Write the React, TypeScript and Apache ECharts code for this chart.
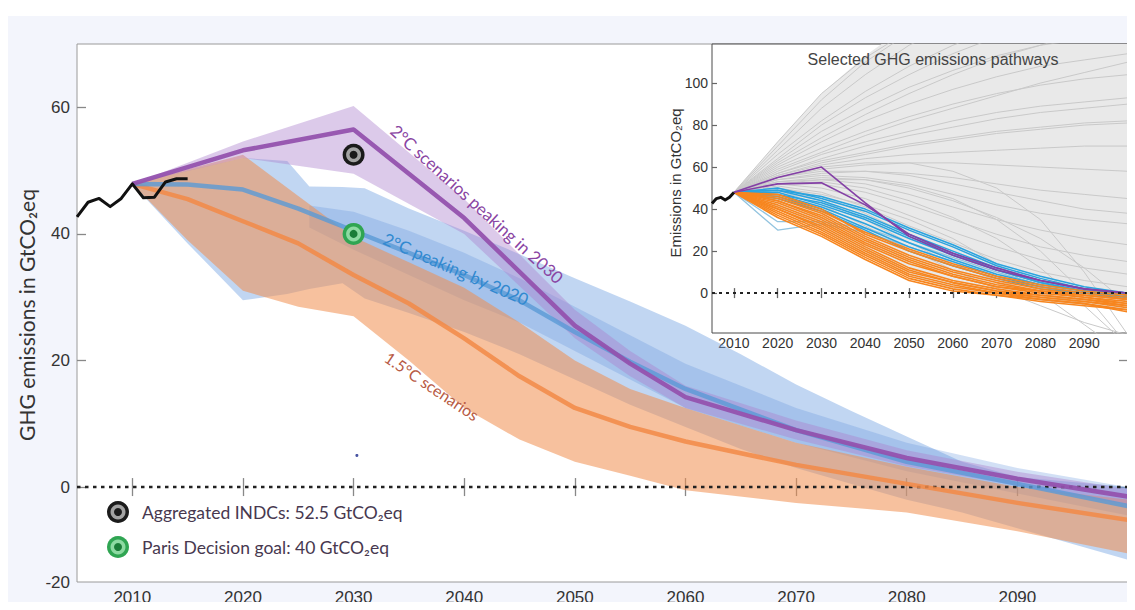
import React, { useEffect, useRef } from 'react';
import * as echarts from 'echarts';

// ---------------- Data ----------------
const histYears = [2005, 2006, 2007, 2008, 2009, 2010, 2011, 2012, 2013, 2014, 2015];
const histValues = [42.7, 45.0, 45.6, 44.3, 45.6, 47.9, 45.7, 45.8, 48.2, 48.7, 48.7];

// 2°C scenarios peaking in 2030 (purple)
const purpleYears = [2010, 2020, 2030, 2040, 2050, 2055, 2060, 2070, 2080, 2090, 2100];
const purpleMedian = [47.9, 53.2, 56.5, 42.5, 25.5, 19.5, 14.2, 9.0, 4.6, 1.3, -1.5];
const purpleLow = [47.9, 52.0, 49.5, 40.0, 23.5, 17.5, 12.5, 7.5, 3.3, 0.2, -2.8];
const purpleHigh = [47.9, 54.6, 60.2, 45.5, 28.0, 21.5, 16.0, 10.5, 5.8, 2.4, -0.3];

// 2°C peaking by 2020 (blue)
const blueYears = [2010, 2015, 2020, 2024, 2026, 2029, 2031, 2035, 2040, 2045, 2050, 2055, 2060, 2065, 2070, 2075, 2080, 2085, 2090, 2100];
const blueHigh = [47.9, 50.0, 52.0, 51.5, 47.5, 47.4, 47.2, 44.0, 40.5, 36.8, 33.0, 29.3, 25.5, 21.0, 16.2, 12.0, 8.0, 4.0, 1.6, 0.0];
const blueLow = [47.9, 38.5, 29.5, 30.5, 31.3, 32.2, 29.8, 27.5, 24.5, 21.0, 17.0, 13.0, 9.5, 6.0, 3.0, 0.5, -2.0, -4.0, -6.5, -11.5];
const blueInnerYears = [2026, 2030, 2035, 2040, 2045, 2050, 2055, 2060, 2070, 2080, 2090, 2100];
const blueInnerHigh = [44.5, 43.5, 40.5, 37.0, 33.0, 28.5, 24.0, 19.5, 12.5, 7.0, 3.0, 0.0];
const blueInnerLow = [41.0, 37.5, 33.5, 29.5, 26.0, 21.5, 17.0, 12.5, 7.0, 2.5, -1.0, -4.5];
const blueMedianYears = [2010, 2015, 2020, 2025, 2030, 2035, 2040, 2045, 2050, 2055, 2060, 2070, 2080, 2090, 2100];
const blueMedian = [47.9, 47.8, 47.0, 44.0, 40.5, 37.0, 33.5, 29.5, 24.5, 19.8, 15.5, 9.0, 4.0, 0.5, -3.0];

// 1.5°C scenarios (orange)
const orangeYears = [2010, 2015, 2020, 2025, 2030, 2035, 2040, 2045, 2050, 2055, 2060, 2070, 2080, 2090, 2100];
const orangeHigh = [47.9, 50.2, 52.5, 46.0, 39.5, 35.5, 31.5, 26.0, 20.0, 15.5, 12.5, 7.0, 3.2, 0.0, -2.0];
const orangeLow = [47.9, 39.0, 31.0, 28.5, 27.0, 20.0, 12.5, 7.5, 4.0, 1.8, -0.5, -2.5, -4.0, -7.0, -10.5];
const orangeMedian = [47.9, 45.5, 42.0, 38.5, 33.5, 29.0, 23.5, 17.5, 12.5, 9.5, 7.2, 3.5, 0.5, -2.5, -5.2];

const indcPoint = [2030, 52.5];
const parisPoint = [2030, 40];
const strayDot = [2030.3, 5];

const mainXTicks = [2010, 2020, 2030, 2040, 2050, 2060, 2070, 2080, 2090];
const mainYTickValues = [-15, 0, 20, 40, 60];
const mainYTickLabels = ['-20', '0', '20', '40', '60'];

// Inset: selected GHG emissions pathways
const insetYears = [2010, 2020, 2030, 2040, 2050, 2060, 2070, 2080, 2090, 2100];
const insetXTicks = [2010, 2020, 2030, 2040, 2050, 2060, 2070, 2080, 2090];
const insetYTicks = [0, 20, 40, 60, 80, 100];
const grayEnvHigh = [48, 72, 95, 113, 128, 140, 150, 158, 164, 170];
const grayEnvLow = [48, 40, 30, 18, 8, 2, -1, -4, -6, -8];
const grayPaths = [
  [48, 72, 95, 112, 125, 135, 145, 150, 155, 160],
  [48, 70, 92, 110, 124, 136, 146, 154, 160, 165],
  [48, 68, 88, 104, 118, 128, 136, 142, 146, 150],
  [48, 66, 82, 96, 108, 118, 126, 132, 136, 140],
  [48, 64, 80, 93, 104, 114, 122, 130, 136, 142],
  [48, 63, 77, 88, 98, 106, 113, 118, 121, 124],
  [48, 62, 74, 85, 95, 104, 112, 118, 124, 128],
  [48, 61, 72, 82, 90, 97, 103, 108, 111, 114],
  [48, 60, 69, 77, 84, 90, 95, 99, 102, 104],
  [48, 59, 67, 75, 82, 88, 94, 100, 105, 110],
  [48, 58, 66, 72, 77, 82, 86, 89, 91, 93],
  [48, 57, 64, 70, 75, 79, 83, 86, 88, 90],
  [48, 57, 63, 67, 71, 74, 77, 79, 81, 82],
  [48, 56, 62, 66, 70, 73, 76, 78, 80, 81],
  [48, 56, 61, 64, 66, 67, 68, 69, 70, 70],
  [48, 55, 59, 61, 62, 62, 61, 60, 59, 58],
  [48, 55, 60, 62, 62, 58, 50, 35, 10, -20],
  [48, 55, 58, 58, 56, 52, 48, 44, 40, 38],
  [48, 54, 57, 58, 57, 55, 52, 49, 47, 45],
  [48, 54, 56, 55, 52, 47, 42, 38, 35, 33],
  [48, 53, 55, 54, 50, 44, 36, 26, 12, -5],
  [48, 53, 54, 52, 47, 41, 35, 30, 26, 23],
  [48, 52, 54, 54, 51, 45, 35, 20, 0, -25],
  [48, 52, 53, 50, 44, 36, 26, 12, -6, -25],
  [48, 52, 52, 48, 42, 35, 28, 22, 18, 15],
  [48, 52, 50, 45, 37, 29, 22, 16, 12, 9],
  [48, 51, 48, 41, 32, 24, 16, 10, 6, 3],
  [48, 50, 47, 42, 35, 26, 14, 0, -15, -30],
  [48, 50, 46, 38, 28, 19, 11, 5, 1, -2],
  [48, 50, 44, 35, 24, 14, 6, 0, -5, -8],
  [48, 49, 42, 32, 21, 11, 2, -6, -14, -20],
];
const orangePaths = [
  [48, 47, 40, 28, 20, 13, 7, 3, 0, -2],
  [48, 46, 39, 29, 21, 14, 8, 4, 1, -1],
  [48, 45, 38, 27, 18, 11, 6, 2, -1, -3],
  [48, 44, 37, 26, 17, 10, 5, 1, -1, -3],
  [48, 44, 36, 25, 16, 9, 4, 1, -2, -4],
  [48, 43, 35, 24, 15, 8, 3, 1, -1, -3],
  [48, 42, 34, 23, 14, 8, 3, 0, -2, -5],
  [48, 41, 33, 22, 12, 6, 2, -1, -3, -5],
  [48, 40, 32, 21, 11, 5, 1, -1, -3, -6],
  [48, 40, 31, 20, 10, 5, 1, -2, -4, -6],
  [48, 39, 30, 19, 9, 4, 0, -2, -4, -7],
  [48, 38, 29, 18, 8, 3, 0, -3, -5, -8],
  [48, 37, 28, 17, 7, 2, -1, -3, -5, -9],
  [48, 36, 27, 16, 6, 1, -1, -4, -6, -8],
];
const bluePaths = [
  [48, 50, 45, 39, 30, 22, 13, 7, 2, 0],
  [48, 49, 46, 40, 31, 23, 14, 8, 3, 0],
  [48, 49, 44, 37, 28, 20, 12, 6, 2, -1],
  [48, 48, 42, 35, 26, 18, 11, 5, 1, -1],
  [48, 47, 43, 36, 27, 19, 11, 5, 1, -1],
  [48, 47, 41, 33, 24, 16, 9, 4, 1, -2],
  [48, 46, 40, 31, 22, 15, 8, 3, 0, -2],
  [48, 45, 39, 30, 20, 13, 7, 2, 0, -3],
];
const lightBluePaths = [
  [48, 30, 33, 29, 22, 15, 8, 3, 0, -2],
  [48, 34, 34, 31, 24, 17, 10, 4, 1, -1],
];
const purplePaths = [
  [48, 55, 60, 43, 27, 18, 11, 6, 2, 0],
  [48, 52, 52.5, 42, 28, 19, 12, 6, 2, 0],
];
const zeroLineYears = [2005, 2100];
const zeroLineValues = [0, 0];

// ---------------- helpers ----------------
const pairs = (xs: number[], ys: number[]) => xs.map((x, i) => [x, ys[i]]);

function band(name: string, years: number[], lo: number[], hi: number[], fill: string, xIdx: number, yIdx: number, z: number) {
  return {
    type: 'custom',
    name,
    xAxisIndex: xIdx,
    yAxisIndex: yIdx,
    clip: true,
    silent: true,
    z,
    data: years.map((y, i) => [y, lo[i], hi[i]]),
    encode: { x: 0, y: [1, 2] },
    renderItem: (params: any, api: any) => {
      if (params.dataIndex !== 0) return null;
      const pts: number[][] = [];
      for (let i = 0; i < years.length; i++) pts.push(api.coord([years[i], lo[i]]));
      for (let i = years.length - 1; i >= 0; i--) pts.push(api.coord([years[i], hi[i]]));
      return { type: 'polygon', shape: { points: pts }, style: { fill } };
    },
  };
}

function line(name: string, xs: number[], ys: number[], color: string, width: number, xIdx: number, yIdx: number, z: number, opacity = 1, type: any = 'solid') {
  return {
    type: 'line',
    name,
    xAxisIndex: xIdx,
    yAxisIndex: yIdx,
    data: pairs(xs, ys),
    showSymbol: false,
    symbol: 'none',
    silent: true,
    clip: true,
    z,
    lineStyle: { color, width, opacity, type, join: 'round', cap: 'butt' },
  };
}

function ringMarker(name: string, pt: number[], colors: string[]) {
  return {
    type: 'custom',
    name,
    xAxisIndex: 0,
    yAxisIndex: 0,
    z: 10,
    silent: true,
    data: [pt],
    renderItem: (_p: any, api: any) => {
      const c = api.coord([api.value(0), api.value(1)]);
      return {
        type: 'group',
        children: [
          { type: 'circle', shape: { cx: c[0], cy: c[1], r: 11 }, style: { fill: colors[0] } },
          { type: 'circle', shape: { cx: c[0], cy: c[1], r: 7.5 }, style: { fill: colors[1] } },
          { type: 'circle', shape: { cx: c[0], cy: c[1], r: 4 }, style: { fill: colors[2] } },
        ],
      };
    },
  };
}

function legendMarker(cx: number, cy: number, colors: string[]) {
  return {
    type: 'group',
    children: [
      { type: 'circle', shape: { cx, cy, r: 11 }, style: { fill: colors[0] } },
      { type: 'circle', shape: { cx, cy, r: 7.5 }, style: { fill: colors[1] } },
      { type: 'circle', shape: { cx, cy, r: 4 }, style: { fill: colors[2] } },
    ],
  };
}

const BLACK_MARK = ['#1b1b1b', '#a3a3a3', '#1b1b1b'];
const GREEN_MARK = ['#2fa552', '#8ddaa2', '#1a7d38'];
const TICK_FONT = 'Liberation Sans, Arial, sans-serif';
const NOTE_FONT = 'Lato, Open Sans, sans-serif';

function mirrorX(grid: number, min: number, max: number, ticks: number[], len: number, color: string, pos: string, labels: boolean, fontSize: number, margin: number) {
  return {
    type: 'value',
    gridIndex: grid,
    min,
    max,
    position: pos,
    axisLine: { show: false },
    splitLine: { show: false },
    axisTick: { show: true, inside: true, length: len, customValues: ticks, lineStyle: { color, width: 1.3 } },
    axisLabel: {
      show: labels,
      customValues: ticks,
      formatter: (v: number) => String(v),
      fontSize,
      fontFamily: TICK_FONT,
      color: '#333',
      margin,
    },
  };
}

export default function App() {
  const ref = useRef<HTMLDivElement>(null);

  useEffect(() => {
    if (!ref.current) return;
    const chart = echarts.init(ref.current, undefined, { renderer: 'svg' });

    const series: any[] = [
      // main chart bands
      band('2°C peaking by 2020 range', blueYears, blueLow, blueHigh, 'rgba(118,164,226,0.45)', 0, 0, 2),
      band('2°C peaking by 2020 core', blueInnerYears, blueInnerLow, blueInnerHigh, 'rgba(95,145,218,0.28)', 0, 0, 2),
      band('1.5°C range', orangeYears, orangeLow, orangeHigh, 'rgba(240,142,78,0.55)', 0, 0, 2),
      band('2°C peaking in 2030 range', purpleYears, purpleLow, purpleHigh, 'rgba(172,128,204,0.42)', 0, 0, 2),
      line('zero', zeroLineYears, zeroLineValues, '#222', 2.5, 0, 0, 3, 1, [3.5, 4.5]),
      line('1.5°C median', orangeYears, orangeMedian, '#f28a46', 4.5, 0, 0, 4, 0.85),
      line('2°C peaking by 2020 median', blueMedianYears, blueMedian, '#5a9ad6', 4.5, 0, 0, 4, 0.8),
      line('2°C peaking in 2030 median', purpleYears, purpleMedian, '#9352ae', 4.5, 0, 0, 5, 0.95),
      line('historical', histYears, histValues, '#111', 3, 0, 0, 6),
      ringMarker('Aggregated INDCs', indcPoint, BLACK_MARK),
      ringMarker('Paris Decision goal', parisPoint, GREEN_MARK),
      {
        type: 'scatter', name: 'dot', xAxisIndex: 0, yAxisIndex: 0, z: 6, silent: true,
        data: [strayDot], symbolSize: 3, itemStyle: { color: '#1c2a8c' },
      },
      // inset
      band('inset envelope', insetYears, grayEnvLow, grayEnvHigh, '#e9e9e9', 2, 2, 2),
    ];
    grayPaths.forEach((p, i) => series.push(line('gray' + i, insetYears, p, '#c9c9c9', 1, 2, 2, 3)));
    lightBluePaths.forEach((p, i) => series.push(line('lightblue' + i, insetYears, p, '#93c4df', 1.3, 2, 2, 4)));
    bluePaths.forEach((p, i) => series.push(line('blue' + i, insetYears, p, '#2aa3df', 1.5, 2, 2, 4)));
    orangePaths.forEach((p, i) => series.push(line('orange' + i, insetYears, p, '#f7861f', 1.6, 2, 2, 5)));
    purplePaths.forEach((p, i) => series.push(line('purple' + i, insetYears, p, '#8440a6', 1.6, 2, 2, 6)));
    series.push(line('inset hist', histYears.slice(0, 6), histValues.slice(0, 6), '#111', 3, 2, 2, 7));
    series.push(line('inset zero', zeroLineYears, zeroLineValues, '#222', 2, 2, 2, 8, 1, [3, 4]));

    const option: any = {
      animation: false,
      grid: [
        { left: 69, top: 28, width: 1051, height: 538, show: true, backgroundColor: '#ffffff', borderColor: '#9a9a9a', borderWidth: 1, containLabel: false },
        { left: 704, top: 28, width: 416, height: 289, show: true, backgroundColor: '#ffffff', borderColor: '#4a4a4a', borderWidth: 1, containLabel: false },
      ],
      xAxis: [
        mirrorX(0, 2005, 2100, mainXTicks, 9, '#888', 'bottom', true, 17, 7),
        mirrorX(0, 2005, 2100, mainXTicks, 9, '#888', 'top', false, 17, 7),
        mirrorX(1, 2005, 2100, insetXTicks, 5, '#666', 'bottom', true, 14, 3),
        mirrorX(1, 2005, 2100, insetXTicks, 5, '#666', 'top', false, 14, 3),
      ],
      yAxis: [
        {
          type: 'value', gridIndex: 0, min: -15, max: 70, position: 'left',
          axisLine: { show: false }, splitLine: { show: false },
          axisTick: { show: true, inside: true, length: 9, customValues: [0, 20, 40, 60], lineStyle: { color: '#888', width: 1.3 } },
          axisLabel: {
            customValues: mainYTickValues,
            formatter: (v: number) => mainYTickLabels[mainYTickValues.indexOf(v)] ?? String(v),
            fontSize: 17, fontFamily: TICK_FONT, color: '#333', margin: 7,
          },
        },
        {
          type: 'value', gridIndex: 0, min: -15, max: 70, position: 'right',
          axisLine: { show: false }, splitLine: { show: false },
          axisTick: { show: true, inside: true, length: 9, customValues: [0, 20, 40, 60], lineStyle: { color: '#888', width: 1.3 } },
          axisLabel: { show: false },
        },
        {
          type: 'value', gridIndex: 1, min: -19, max: 118.6, position: 'left',
          axisLine: { show: false }, splitLine: { show: false },
          axisTick: { show: true, inside: true, length: 5, customValues: insetYTicks, lineStyle: { color: '#666', width: 1.2 } },
          axisLabel: {
            customValues: insetYTicks, formatter: (v: number) => String(v),
            fontSize: 14, fontFamily: TICK_FONT, color: '#333', margin: 4,
          },
        },
        {
          type: 'value', gridIndex: 1, min: -19, max: 118.6, position: 'right',
          axisLine: { show: false }, splitLine: { show: false },
          axisTick: { show: true, inside: true, length: 5, customValues: insetYTicks, lineStyle: { color: '#666', width: 1.2 } },
          axisLabel: { show: false },
        },
      ],
      series,
      graphic: [
        {
          type: 'text', x: 18, y: 299, rotation: Math.PI / 2, z: 20,
          style: { text: 'GHG emissions in GtCO₂eq', font: `21px ${NOTE_FONT}`, fill: '#333', align: 'center', verticalAlign: 'middle' },
        },
        {
          type: 'text', x: 469, y: 188, rotation: -0.737, z: 20,
          style: { text: '2°C scenarios peaking in 2030', font: `17px ${NOTE_FONT}`, fill: '#8a45a3', align: 'center', verticalAlign: 'middle' },
        },
        {
          type: 'text', x: 448, y: 253, rotation: -0.412, z: 20,
          style: { text: '2°C peaking by 2020', font: `17px ${NOTE_FONT}`, fill: '#3189d0', align: 'center', verticalAlign: 'middle' },
        },
        {
          type: 'text', x: 424, y: 370, rotation: -0.59, z: 20,
          style: { text: '1.5°C scenarios', font: `16px ${NOTE_FONT}`, fill: '#b75a44', align: 'center', verticalAlign: 'middle' },
        },
        { ...legendMarker(110, 496, BLACK_MARK), z: 20 },
        {
          type: 'text', x: 134, y: 496, z: 20,
          style: { text: `Aggregated INDCs: ${indcPoint[1]} GtCO₂eq`, font: `17.5px ${NOTE_FONT}`, fill: '#47384f', align: 'left', verticalAlign: 'middle' },
        },
        { ...legendMarker(110, 531, GREEN_MARK), z: 20 },
        {
          type: 'text', x: 134, y: 531, z: 20,
          style: { text: `Paris Decision goal: ${parisPoint[1]} GtCO₂eq`, font: `17.5px ${NOTE_FONT}`, fill: '#47384f', align: 'left', verticalAlign: 'middle' },
        },
        {
          type: 'text', x: 925, y: 43, z: 20,
          style: { text: 'Selected GHG emissions pathways', font: `16px ${TICK_FONT}`, fill: '#444', align: 'center', verticalAlign: 'middle' },
        },
        {
          type: 'text', x: 667, y: 167, rotation: Math.PI / 2, z: 20,
          style: { text: 'Emissions in GtCO₂eq', font: `15px ${TICK_FONT}`, fill: '#333', align: 'center', verticalAlign: 'middle' },
        },
      ],
    };

    chart.setOption(option);
    return () => chart.dispose();
  }, []);

  return (
    <div style={{ paddingTop: 8, marginBottom: -8 }}>
      <div ref={ref} style={{ width: 1127, height: 594, background: '#f3f5fc' }} />
    </div>
  );
}
